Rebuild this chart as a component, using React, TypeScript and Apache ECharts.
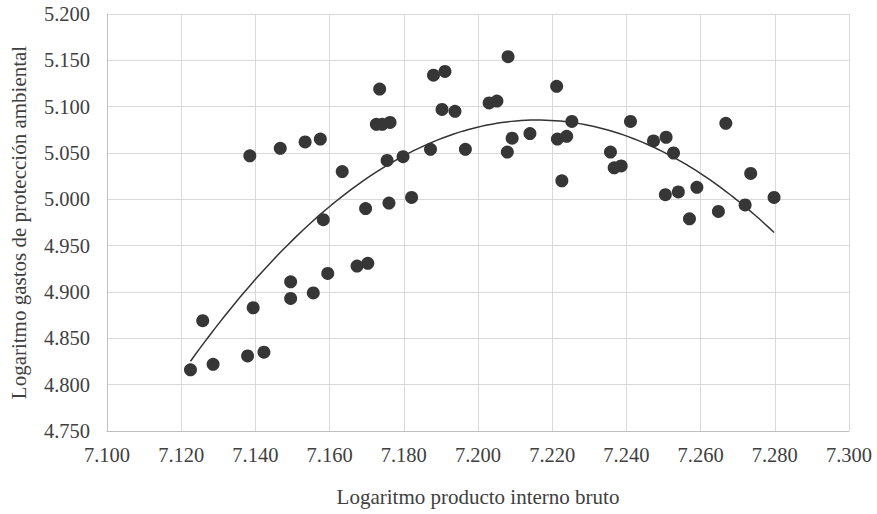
import React, { useEffect, useRef } from "react";
import * as echarts from "echarts";

const xValues = [
  7.1385, 7.1467, 7.1534, 7.1575, 7.1634, 7.1735, 7.1726, 7.1742, 7.1763, 7.1755,
  7.1798, 7.188, 7.1911, 7.1903, 7.1938, 7.1872, 7.1966, 7.1697, 7.176, 7.1821,
  7.1583, 7.2081, 7.203, 7.2051, 7.2212, 7.2092, 7.214, 7.2079, 7.2214, 7.2239,
  7.2253, 7.2226, 7.2411, 7.2357, 7.2367, 7.2386, 7.2473, 7.2507, 7.2527, 7.2505,
  7.254, 7.259, 7.257, 7.2648, 7.2668, 7.2735, 7.272, 7.2798, 7.1225, 7.1286,
  7.1379, 7.1423, 7.1258, 7.1394, 7.1495, 7.1495, 7.1556, 7.1595, 7.1674, 7.1703,
];
const yValues = [
  5.047, 5.055, 5.062, 5.065, 5.03, 5.119, 5.081, 5.081, 5.083, 5.042,
  5.046, 5.134, 5.138, 5.097, 5.095, 5.054, 5.054, 4.99, 4.996, 5.002,
  4.978, 5.154, 5.104, 5.106, 5.122, 5.066, 5.071, 5.051, 5.065, 5.068,
  5.084, 5.02, 5.084, 5.051, 5.034, 5.036, 5.063, 5.067, 5.05, 5.005,
  5.008, 5.013, 4.979, 4.987, 5.082, 5.028, 4.994, 5.002, 4.816, 4.822,
  4.831, 4.835, 4.869, 4.883, 4.893, 4.911, 4.899, 4.92, 4.928, 4.931,
];

const xAxisTitle = "Logaritmo producto interno bruto";
const yAxisTitle = "Logaritmo gastos de protección ambiental";

// least-squares quadratic fit (polynomial trend line of order 2)
function quadFit(xs: number[], ys: number[]) {
  const x0 = 7.2;
  let s0 = 0, s1 = 0, s2 = 0, s3 = 0, s4 = 0, t0 = 0, t1 = 0, t2 = 0;
  for (let i = 0; i < xs.length; i++) {
    const u = xs[i] - x0;
    const y = ys[i];
    s0 += 1; s1 += u; s2 += u * u; s3 += u * u * u; s4 += u * u * u * u;
    t0 += y; t1 += u * y; t2 += u * u * y;
  }
  const M = [
    [s0, s1, s2, t0],
    [s1, s2, s3, t1],
    [s2, s3, s4, t2],
  ];
  for (let c = 0; c < 3; c++) {
    for (let r = c + 1; r < 3; r++) {
      const f = M[r][c] / M[c][c];
      for (let k = c; k < 4; k++) M[r][k] -= f * M[c][k];
    }
  }
  const b = [0, 0, 0];
  for (let r = 2; r >= 0; r--) {
    let s = M[r][3];
    for (let k = r + 1; k < 3; k++) s -= M[r][k] * b[k];
    b[r] = s / M[r][r];
  }
  return (x: number) => {
    const u = x - x0;
    return b[0] + b[1] * u + b[2] * u * u;
  };
}

export default function App() {
  const ref = useRef<HTMLDivElement>(null);
  useEffect(() => {
    if (!ref.current) return;
    const chart = echarts.init(ref.current, null, { renderer: "svg" });
    const fit = quadFit(xValues, yValues);
    const xmin = Math.min(...xValues);
    const xmax = Math.max(...xValues);
    const trend: number[][] = [];
    const N = 120;
    for (let i = 0; i <= N; i++) {
      const x = xmin + ((xmax - xmin) * i) / N;
      trend.push([x, fit(x)]);
    }
    const font = "Liberation Serif";
    const labelStyle = { fontFamily: font, fontSize: 20.5, color: "#404040" };
    chart.setOption({
      animation: false,
      backgroundColor: "#ffffff",
      grid: { left: 105, right: 28, top: 14, bottom: 83, show: false },
      xAxis: {
        type: "value",
        min: 7.1,
        max: 7.3,
        interval: 0.02,
        name: xAxisTitle,
        nameLocation: "middle",
        nameGap: 55,
        nameTextStyle: { fontFamily: font, fontSize: 21, color: "#404040" },
        axisLine: { show: true, lineStyle: { color: "#bfbfbf", width: 1 } },
        axisTick: { show: false },
        axisLabel: { ...labelStyle, margin: 13, formatter: (v: number) => v.toFixed(3) },
        splitLine: { show: true, lineStyle: { color: "#d9d9d9", width: 1 } },
      },
      yAxis: {
        type: "value",
        min: 4.75,
        max: 5.2,
        interval: 0.05,
        name: yAxisTitle,
        nameLocation: "middle",
        nameGap: 78,
        nameTextStyle: { fontFamily: font, fontSize: 21, color: "#404040" },
        axisLine: { show: true, lineStyle: { color: "#bfbfbf", width: 1 } },
        axisTick: { show: false },
        axisLabel: { ...labelStyle, margin: 17, formatter: (v: number) => v.toFixed(3) },
        splitLine: { show: true, lineStyle: { color: "#d9d9d9", width: 1 } },
      },
      series: [
        {
          type: "line",
          data: trend,
          showSymbol: false,
          smooth: false,
          lineStyle: { color: "#333333", width: 1.5 },
          z: 3,
        },
        {
          type: "scatter",
          data: xValues.map((x, i) => [x, yValues[i]]),
          symbolSize: 13,
          itemStyle: { color: "#363636", opacity: 1 },
          z: 4,
        },
      ],
    });
    return () => chart.dispose();
  }, []);
  return (
    <div
      ref={ref}
      style={{ position: "absolute", left: 0, top: 0, width: 877, height: 514 }}
    />
  );
}
